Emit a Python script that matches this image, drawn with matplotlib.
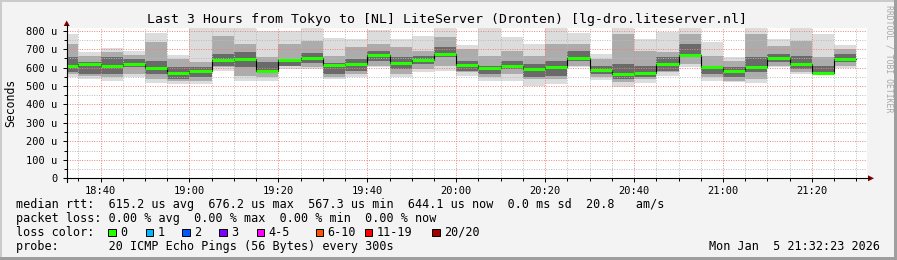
#!/bin/env python3
# SmokePing style latency graph (Tokyo -> LiteServer Dronten), last 3 hours
import numpy as np
import matplotlib
matplotlib.use("Agg")
import matplotlib.pyplot as plt
from matplotlib.lines import Line2D
from matplotlib.patches import Polygon, Rectangle

W, H = 897, 260
plt.rcParams['font.family'] = ['DejaVu Sans Mono']

# rrd steps are 5 min, x is minutes after 18:00
step_start = np.arange(30, 210, 5)
edges = np.append(step_start, 210)

# median rtt per step (us)
median = [609, 619, 609, 619, 596, 571, 582, 641, 648, 583,
          643, 654, 616, 621, 670, 627, 643, 676, 616, 596,
          609, 594, 605, 654, 589, 567, 572, 621, 670, 601,
          583, 601, 654, 621, 572, 644]
# smoke: outer (min/max), middle and inner bands (us)
smoke_max = [782, 686, 706, 692, 788, 668, 830, 830, 830, 800,
             797, 830, 760, 755, 804, 755, 773, 830, 724, 830,
             768, 728, 830, 788, 674, 830, 755, 791, 830, 737,
             656, 830, 755, 830, 782, 724]
smoke_min = [551, 538, 529, 547, 517, 511, 511, 583, 529, 529,
             592, 592, 538, 547, 601, 551, 574, 583, 556, 529,
             526, 502, 511, 601, 533, 497, 515, 556, 605, 529,
             520, 515, 601, 565, 562, 596]
mid_hi = [728, 661, 683, 670, 737, 647, 629, 773, 728, 656,
          728, 746, 665, 710, 728, 710, 692, 764, 701, 665,
          692, 665, 728, 728, 647, 782, 692, 683, 782, 665,
          634, 782, 719, 746, 656, 701]
mid_lo = [565, 556, 547, 565, 538, 529, 529, 601, 556, 547,
          610, 601, 547, 565, 610, 565, 592, 610, 574, 547,
          565, 538, 538, 610, 547, 520, 538, 574, 620, 547,
          529, 538, 610, 574, 569, 610]
core_hi = [656, 629, 656, 647, 638, 601, 601, 674, 683, 629,
           647, 677, 625, 647, 692, 656, 665, 710, 638, 610,
           638, 620, 638, 692, 610, 620, 610, 656, 728, 610,
           601, 656, 674, 665, 610, 674]
core_lo = [574, 565, 565, 601, 565, 538, 547, 611, 601, 583,
           610, 623, 565, 583, 638, 592, 619, 656, 583, 565,
           592, 547, 556, 638, 565, 538, 547, 583, 665, 565,
           547, 574, 628, 592, 565, 628]

x_major = [40, 60, 80, 100, 120, 140, 160, 180, 200]
x_labels = ["18:40", "19:00", "19:20", "19:40", "20:00", "20:20", "20:40", "21:00", "21:20"]
y_major = [0, 100, 200, 300, 400, 500, 600, 700, 800]
y_labels = ["0", "100 u", "200 u", "300 u", "400 u", "500 u", "600 u", "700 u", "800 u"]

loss_labels = ["0", "1", "2", "3", "4-5", "6-10", "11-19", "20/20"]
loss_colors = ["#26ff00", "#00b8ff", "#0059ff", "#7e00ff", "#ff00ff", "#ff5500", "#ff0000", "#a00000"]
loss_box_x = [108.3, 145.7, 182.3, 219.3, 256.7, 315.7, 365.0, 432.3]

title = "Last 3 Hours from Tokyo to [NL] LiteServer (Dronten) [lg-dro.liteserver.nl]"
legend_lines = [
    "median rtt:  615.2 us avg  676.2 us max  567.3 us min  644.1 us now  0.0 ms sd  20.8   am/s",
    "packet loss: 0.00 % avg  0.00 % max  0.00 % min  0.00 % now",
    "loss color:",
    "probe:       20 ICMP Echo Pings (56 Bytes) every 300s",
]
stamp = "Mon Jan  5 21:32:23 2026"


def fx(x):
    return x / W


def fy(y):
    return 1 - y / H


def ext(a):
    return list(a) + [a[-1]]


fig = plt.figure(figsize=(W / 100, H / 100), dpi=100, facecolor='#f3f3f3')

# canvas position in pixels
left, right, top, bottom = 66.7, 867.0, 28.3, 178.3
ax = fig.add_axes([fx(left), fy(bottom), fx(right - left), (bottom - top) / H])
ax.set_facecolor('white')
ax.set_xlim(32 + 23 / 60, 212 + 23 / 60)
ax.set_ylim(0, 813)

shades = ['#dcdcdc', '#acacac', '#6a6a6a']
bands = [(smoke_min, smoke_max), (mid_lo, mid_hi), (core_lo, core_hi)]
for (lo, hi), c in zip(bands, shades):
    ax.fill_between(edges, ext(lo), ext(hi), step='post', color=c, lw=0, zorder=1)

ax.step(edges, ext(median), where='post', color='black', lw=0.8, zorder=3)
ax.hlines(median, edges[:-1], edges[1:], color=loss_colors[0], lw=2.2, zorder=4)

ax.set_xticks(x_major, x_labels)
ax.set_xticks([m for m in np.arange(35, 215, 5) if m not in x_major], minor=True)
ax.set_yticks(y_major, y_labels)
ax.set_yticks([50, 150, 250, 350, 450, 550, 650, 750], minor=True)
ax.set_axisbelow(False)
ax.grid(which='minor', color='#bababa', ls=(0, (1, 1.5)), lw=0.7)
ax.grid(which='major', color='#f08080', ls=(0, (1, 1.5)), lw=0.7)
ax.tick_params(which='major', length=3, width=0.7, labelsize=7.5, pad=2.5)
ax.tick_params(which='minor', length=2, width=0.7)
ax.tick_params(axis='y', pad=3.5)
for s in ax.spines.values():
    s.set_visible(False)

# axis lines with arrows, like rrdtool
fig.add_artist(Line2D([fx(63.7), fx(869)], [fy(bottom)] * 2, color='black', lw=0.8))
fig.add_artist(Line2D([fx(left)] * 2, [fy(181.7), fy(25)], color='black', lw=0.8))
fig.add_artist(Polygon([[fx(868), fy(175.3)], [fx(874), fy(bottom)], [fx(868), fy(181.3)]],
                       closed=True, color='#7f0000', lw=0))
fig.add_artist(Polygon([[fx(63.7), fy(26)], [fx(left), fy(20.5)], [fx(69.7), fy(26)]],
                       closed=True, color='#7f0000', lw=0))

fig.text(fx(446.5), fy(19.5), title, ha='center', va='center', fontsize=9.5)
fig.text(fx(11), fy(102.5), "Seconds", rotation=90, ha='center', va='center', fontsize=8.3)
fig.text(fx(889), fy(5), "RRDTOOL / TOBI OETIKER", rotation=270, ha='center', va='top',
         fontsize=5.9, color='#a8a8a8')

for i, line in enumerate(legend_lines):
    fig.text(fx(16), fy(204.3 + 14 * i), line, ha='left', va='center', fontsize=8.5)
fig.text(fx(880), fy(246.3), stamp, ha='right', va='center', fontsize=8.5)

for bx, lab, col in zip(loss_box_x, loss_labels, loss_colors):
    fig.add_artist(Rectangle((fx(bx), fy(236)), fx(7.3), 7.3 / H, facecolor=col,
                             edgecolor='black', lw=0.7))
    fig.text(fx(bx + 11.7), fy(232.3), lab, ha='left', va='center', fontsize=8.5)

# image frame
fig.add_artist(Rectangle((0, fy(2)), 1, 2 / H, color='#cbcbcb', lw=0))
fig.add_artist(Rectangle((0, 0), fx(2), 1, color='#cbcbcb', lw=0))
fig.add_artist(Rectangle((0, 0), 1, 3 / H, color='#9e9e9e', lw=0))
fig.add_artist(Rectangle((fx(W - 3), 0), fx(3), 1, color='#9e9e9e', lw=0))

fig.savefig("out.png", dpi=100, facecolor=fig.get_facecolor())
